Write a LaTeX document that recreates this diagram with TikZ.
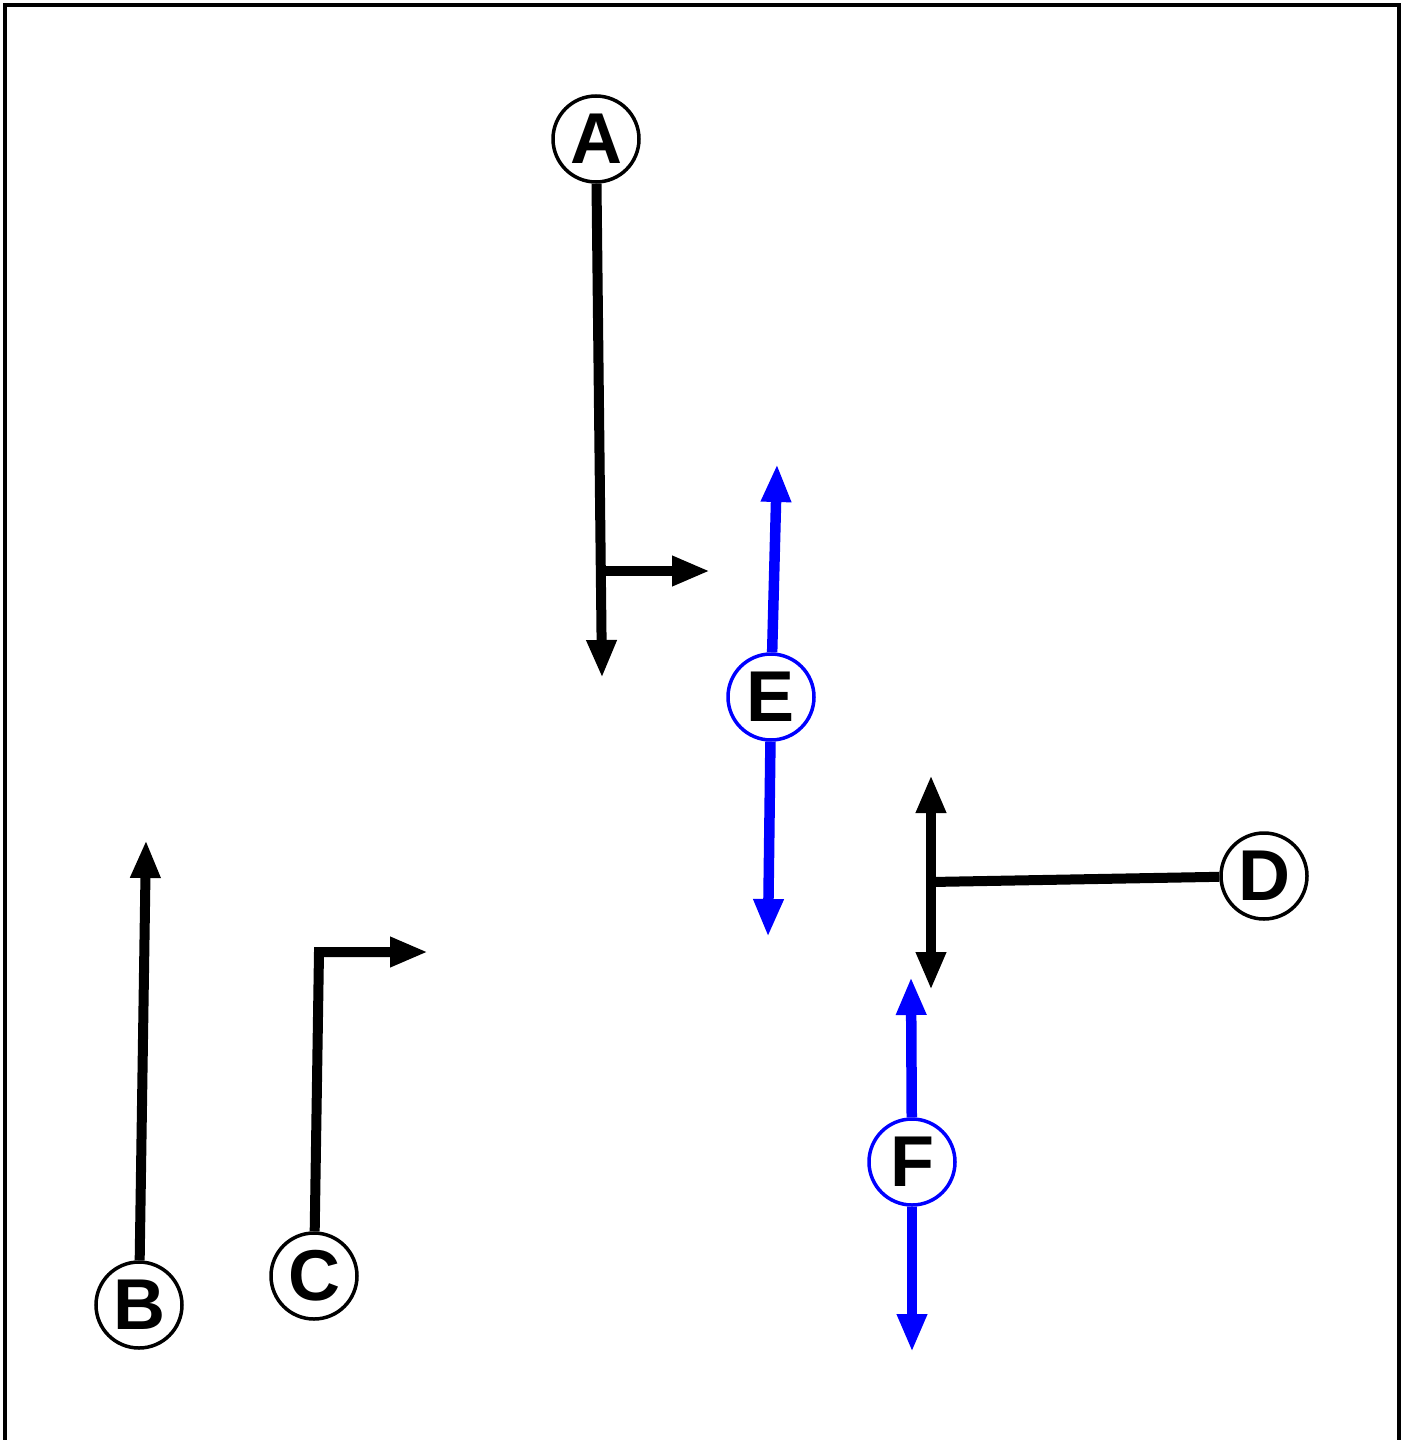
\documentclass[tikz,border=0pt]{standalone}
\usepackage{fontspec}
\setmainfont{Liberation Sans}
\usetikzlibrary{arrows.meta}
\begin{document}
\begin{tikzpicture}[x=1pt,y=-1pt,
  pin/.style={circle,draw=black,line width=3.5pt,fill=white,minimum size=86pt,inner sep=0pt,font=\fontsize{72}{72}\selectfont\bfseries},
  bluepin/.style={pin,draw=blue},
  tip/.style={-{Triangle[length=38pt,width=28pt]}},
  blk/.style={line width=10pt,draw=black},
  blu/.style={line width=10.5pt,draw=blue}]
\useasboundingbox (0,0) rectangle (1408,1440);
% frame
\draw[line width=4.5pt] (5,1450) -- (5,5) -- (1399,5) -- (1399,1450);
% coordinates
\coordinate (a1) at (602,678);
\coordinate (a2) at (602,571);
\coordinate (a3) at (710,571);
\coordinate (b1) at (146,840);
\coordinate (c1) at (319,952);
\coordinate (c2) at (428,952);
\coordinate (d1) at (931,882);
\coordinate (d2) at (931,775);
\coordinate (d3) at (931,990);
\coordinate (e1) at (777,464);
\coordinate (e2) at (768,937);
\coordinate (f1) at (911,977);
\coordinate (f2) at (912,1352);
% nodes
\node[pin] (A) at (596,139) {A};
\node[pin] (B) at (139,1305) {B};
\node[pin] (C) at (314,1276) {C};
\node[pin] (D) at (1264,876) {D};
\node[bluepin] (E) at (771,697) {E};
\node[bluepin] (F) at (912,1162) {F};
% connectors
\draw[blk,tip] (A) -- (a1);
\draw[blk,tip] (a2) -- (a3);
\draw[blk,tip] (B) -- (b1);
\draw[blk,tip,line join=miter] (C) -- (c1) -- (c2);
\draw[blk] (D) -- (d1);
\draw[blk,{Triangle[length=38pt,width=28pt]}-{Triangle[length=38pt,width=28pt]}] (d2) -- (d3);
\draw[blu,tip] (E) -- (e1);
\draw[blu,tip] (E) -- (e2);
\draw[blu,tip] (F) -- (f1);
\draw[blu,tip] (F) -- (f2);
\end{tikzpicture}
\end{document}
